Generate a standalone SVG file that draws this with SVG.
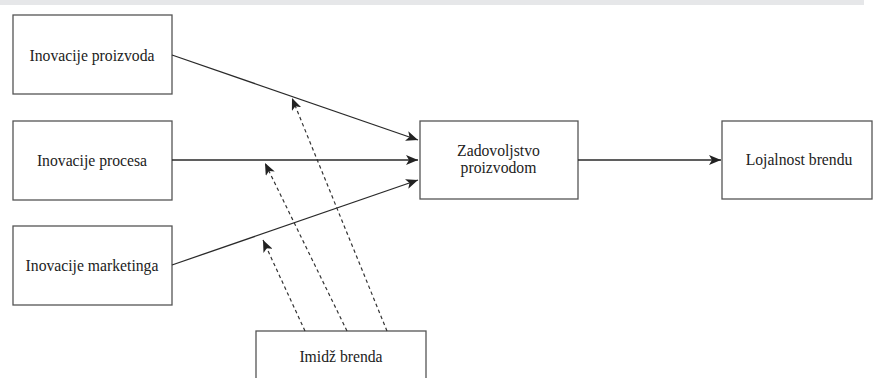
<svg xmlns="http://www.w3.org/2000/svg" width="874" height="378" viewBox="0 0 874 378">
<style>
.box{fill:#fff;stroke:#555;stroke-width:1.3}
.t{font-family:"Liberation Serif","Times New Roman",serif;font-size:15.7px;fill:#222;text-anchor:middle}
.solid{stroke:#2a2a2a;stroke-width:1.3;fill:none}
.dash{stroke:#333;stroke-width:1.2;stroke-dasharray:3.5 3;fill:none}
</style>
<defs>
<marker id="ah" viewBox="0 0 12 10" refX="12" refY="5" markerWidth="12" markerHeight="10" markerUnits="userSpaceOnUse" orient="auto">
<path d="M0,0 L12,5 L0,10 L3,5 Z" fill="#222"/>
</marker>
</defs>
<rect x="0" y="0" width="864" height="5" fill="#e6e7e9"/>
<g id="n1"><rect class="box" x="13" y="15" width="159" height="79"/><text class="t" x="92" y="60.5">Inovacije proizvoda</text></g>
<g id="n2"><rect class="box" x="13" y="121" width="159" height="79"/><text class="t" x="92" y="165.5">Inovacije procesa</text></g>
<g id="n3"><rect class="box" x="13" y="226" width="159" height="79"/><text class="t" x="92" y="270.5">Inovacije marketinga</text></g>
<g id="n4"><rect class="box" x="420" y="121" width="158" height="78"/><text class="t" x="498.5" y="156">Zadovoljstvo</text><text class="t" x="498.5" y="173">proizvodom</text></g>
<g id="n5"><rect class="box" x="722" y="121" width="150" height="78"/><text class="t" x="799" y="165">Lojalnost brendu</text></g>
<g id="n6"><rect class="box" x="256" y="331" width="170" height="60"/><text class="t" x="341" y="362">Imidž brenda</text></g>
<g id="connectors">
<line class="solid" x1="172" y1="55" x2="418" y2="140" marker-end="url(#ah)"/>
<line class="solid" x1="172" y1="160" x2="418" y2="160" marker-end="url(#ah)"/>
<line class="solid" x1="172" y1="265" x2="418" y2="180" marker-end="url(#ah)"/>
<line class="solid" x1="578" y1="160" x2="721" y2="160" marker-end="url(#ah)"/>
<line class="dash" x1="387" y1="331" x2="292" y2="98" marker-end="url(#ah)"/>
<line class="dash" x1="347" y1="331" x2="265" y2="163" marker-end="url(#ah)"/>
<line class="dash" x1="305" y1="331" x2="263" y2="240" marker-end="url(#ah)"/>
</g>
</svg>
